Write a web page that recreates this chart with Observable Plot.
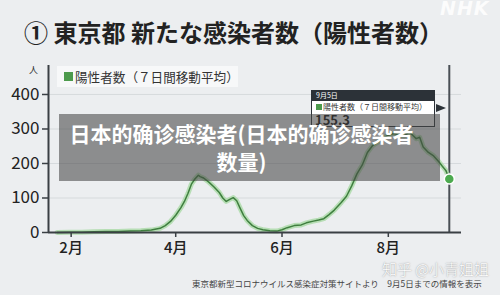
<!DOCTYPE html>
<html>
<head>
<meta charset="utf-8">
<script src="https://cdn.jsdelivr.net/npm/d3@7"></script>
<script src="https://cdn.jsdelivr.net/npm/@observablehq/plot@0.6"></script>
<style>
  html, body { margin: 0; padding: 0; background: #eceef0; }
  #wrap { position: relative; width: 500px; height: 295px; overflow: hidden; background: #eceef0; font-family: "Noto Sans CJK JP", "Noto Sans", sans-serif; }
  #chart { position: absolute; left: 0; top: 0; }
  .abs { position: absolute; white-space: nowrap; }
</style>
</head>
<body>
<div id="wrap">
  <div id="chart"></div>
  <div class="abs" style="left:440px;top:-3px;font:italic 900 19px 'DejaVu Sans',sans-serif;color:#fff;opacity:0.85;letter-spacing:1px;">NHK</div>
  <div class="abs" id="title" style="left:24px;top:17px;font-weight:700;font-size:24px;color:#222;line-height:30px;"></div>
  <div class="abs" id="unit" style="left:29px;top:63px;font-size:9px;color:#333;"></div>
  <div class="abs" style="left:57px;top:66px;width:181px;height:21px;background:#f7f8f9;"></div>
  <div class="abs" style="left:64px;top:72px;width:9px;height:9px;background:#4c9a4c;"></div>
  <div class="abs" id="legend" style="left:75px;top:67px;font-size:12.6px;line-height:19px;color:#333;"></div>
  <!-- tooltip -->
  <div class="abs" style="left:311px;top:90px;width:124px;height:37px;background:#fff;border:1px solid #2c3238;box-sizing:border-box;"></div>
  <div class="abs" style="left:311px;top:90px;width:124px;height:11px;background:#2c3238;"></div>
  <div class="abs" id="ttDate" style="left:316px;top:90px;font-size:7px;line-height:11px;color:#fff;"></div>
  <div class="abs" style="left:316px;top:104px;width:6px;height:6px;background:#4c9a4c;"></div>
  <div class="abs" id="ttLabel" style="left:323px;top:101px;font-size:8px;line-height:11px;color:#333;"></div>
  <div class="abs" id="ttValue" style="left:315px;top:114px;font-size:13px;font-weight:700;line-height:12px;color:#111;"></div>
  <div class="abs" style="left:436px;top:104px;width:0;height:0;border-top:4px solid transparent;border-bottom:4px solid transparent;border-left:10px solid #2c3238;"></div>
  <!-- banner -->
  <div class="abs" id="banner" style="left:59px;top:114px;width:381px;height:67px;background:rgba(70,70,70,0.58);color:#fff;font-family:'Noto Sans CJK SC',sans-serif;font-weight:700;font-size:21px;line-height:28px;text-align:center;white-space:normal;padding:5px 20px 0 4px;box-sizing:border-box;"></div>
  <div class="abs" id="caption" style="left:192px;top:277px;font-size:8.5px;line-height:12px;color:#444;"></div>
  <div class="abs" id="wm" style="left:382px;top:259px;font-size:15px;line-height:20px;color:#fff;font-family:'Noto Sans CJK SC',sans-serif;font-weight:300;text-shadow:0 0 1.5px #777;"></div>
</div>
<script>
// ---- texts ----
const titleText = "① 東京都 新たな感染者数（陽性者数）";
const unitText = "人";
const legendText = "陽性者数（７日間移動平均）";
const tooltipDate = "9月5日";
const tooltipLabel = "陽性者数（７日間移動平均）";
const tooltipValue = "155.3";
const bannerText = "日本的确诊感染者(日本的确诊感染者数量)";
const captionText = "東京都新型コロナウイルス感染症対策サイトより　9月5日までの情報を表示";
const watermarkText = "知乎 @小青姐姐";

// ---- data ----
const dates = [
  "2020-01-24","2020-01-31","2020-02-07","2020-02-14","2020-02-21","2020-02-28",
  "2020-03-06","2020-03-12","2020-03-18","2020-03-23","2020-03-26","2020-03-29",
  "2020-04-01","2020-04-04","2020-04-06","2020-04-08","2020-04-10","2020-04-12",
  "2020-04-14","2020-04-15","2020-04-17","2020-04-20","2020-04-23","2020-04-26",
  "2020-04-28","2020-04-30","2020-05-02","2020-05-04","2020-05-06","2020-05-08",
  "2020-05-10","2020-05-12","2020-05-15","2020-05-18","2020-05-21","2020-05-25",
  "2020-05-29","2020-06-01","2020-06-04","2020-06-08","2020-06-12","2020-06-15",
  "2020-06-19","2020-06-22","2020-06-25","2020-06-28","2020-07-01","2020-07-05",
  "2020-07-08","2020-07-11","2020-07-14","2020-07-17","2020-07-20","2020-07-23",
  "2020-07-26","2020-07-29","2020-08-01","2020-08-04","2020-08-07","2020-08-10",
  "2020-08-13","2020-08-15","2020-08-17","2020-08-19","2020-08-21","2020-08-24",
  "2020-08-27","2020-08-30","2020-09-01","2020-09-03","2020-09-05"
];
const values = [
  0, 0.5, 1, 2, 3, 3,
  4, 5, 7, 12, 20, 32,
  50, 72, 90, 113, 140, 155,
  166, 162, 158, 146, 132, 116,
  100, 90, 96, 101, 92, 70,
  49, 35, 20, 12, 8, 5,
  4, 8, 14, 20, 22, 28,
  33, 36, 40, 52, 65, 87,
  105, 135, 170, 195, 232, 252,
  262, 274, 282, 287, 283, 280,
  290, 282, 272, 276, 248, 232,
  222, 205, 192, 180, 155.3
];
const yTicks = [0, 100, 200, 300, 400];
const xTickDates = ["2020-02-01", "2020-04-01", "2020-06-01", "2020-08-01"];
const xDomainDates = ["2020-01-19", "2020-09-12"];
const yDomain = [0, 484];
const markerDate = "2020-09-05";

// ---- build ----
const parse = d3.utcParse("%Y-%m-%d");
const data = dates.map((d, i) => ({date: parse(d), value: values[i]}));
const last = [data[data.length - 1]];
const xTicks = xTickDates.map(parse);

const chart = Plot.plot({
  width: 500,
  height: 295,
  marginTop: 65,
  marginBottom: 63,
  marginLeft: 48,
  marginRight: 39,
  style: {background: "transparent", color: "#222", fontFamily: "'Noto Sans CJK JP', 'Noto Sans', sans-serif"},
  x: {type: "utc", domain: xDomainDates.map(parse), label: null},
  y: {domain: yDomain, label: null},
  marks: [
    Plot.gridY(yTicks.filter(d => d > 0), {stroke: "#d6dadd", strokeOpacity: 1, strokeWidth: 1}),
    Plot.ruleX([parse(markerDate)], {stroke: "#4a4f55", strokeWidth: 2}),
    Plot.lineY(data, {x: "date", y: "value", stroke: "#a6d8a1", strokeWidth: 5, strokeOpacity: 0.75}),
    Plot.lineY(data, {x: "date", y: "value", stroke: "#3f7f3f", strokeWidth: 1.5}),
    Plot.ruleY([0], {stroke: "#3a3f44", strokeWidth: 2}),
    Plot.ruleX([parse(xDomainDates[0])], {stroke: "#3a3f44", strokeWidth: 2}),
    Plot.dot(last, {x: "date", y: "value", r: 5, fill: "#4caa4f", stroke: "#fff", strokeWidth: 1.5}),
    Plot.axisY({ticks: yTicks, tickSize: 6, tickPadding: 3, fontSize: 17, tickFormat: d => String(d), stroke: "#3a3f44", strokeWidth: 1.5, label: null}),
    Plot.axisX({ticks: xTicks, tickSize: 5, tickPadding: 5, fontSize: 15, fontWeight: 500, tickFormat: d => (d.getUTCMonth() + 1) + "月", stroke: "#3a3f44", strokeWidth: 1.5, label: null})
  ]
});
document.getElementById("chart").appendChild(chart);

document.getElementById("title").textContent = titleText;
document.getElementById("unit").textContent = unitText;
document.getElementById("legend").textContent = legendText;
document.getElementById("ttDate").textContent = tooltipDate;
document.getElementById("ttLabel").textContent = tooltipLabel;
document.getElementById("ttValue").textContent = tooltipValue;
document.getElementById("banner").textContent = bannerText;
document.getElementById("caption").textContent = captionText;
document.getElementById("wm").textContent = watermarkText;
</script>
</body>
</html>
